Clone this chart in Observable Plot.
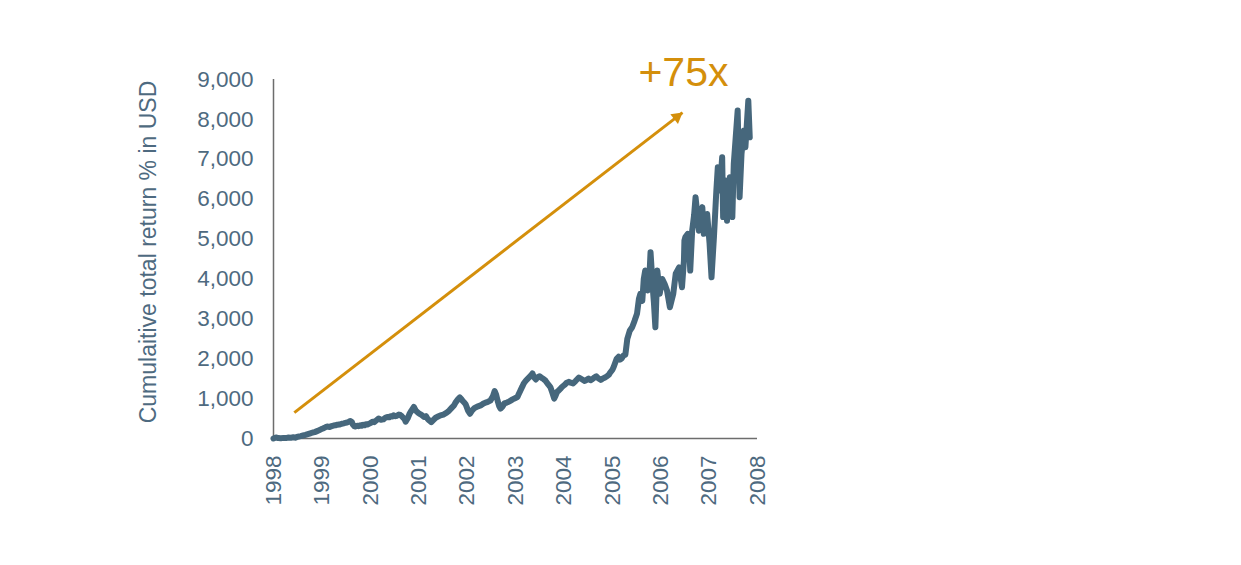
<!DOCTYPE html>
<html><head><meta charset="utf-8">
<script src="https://cdn.jsdelivr.net/npm/d3@7"></script>
<script src="https://cdn.jsdelivr.net/npm/@observablehq/plot@0.6"></script>
<style>body{margin:0;background:#fff;}</style>
</head><body><div id="chart"></div>
<script>
// Fractional year and cumulative total return (%)
const years = [1998.00,1998.05,1998.10,1998.15,1998.21,1998.26,1998.30,1998.36,1998.41,1998.46,1998.50,1998.56,1998.61,1998.66,1998.71,1998.76,1998.81,1998.85,1998.90,1998.93,1998.98,1999.02,1999.07,1999.11,1999.16,1999.20,1999.24,1999.28,1999.32,1999.36,1999.41,1999.45,1999.49,1999.52,1999.56,1999.59,1999.62,1999.64,1999.67,1999.69,1999.73,1999.76,1999.79,1999.82,1999.85,1999.88,1999.91,1999.94,1999.99,2000.05,2000.08,2000.11,2000.14,2000.17,2000.22,2000.27,2000.31,2000.35,2000.39,2000.42,2000.45,2000.48,2000.52,2000.55,2000.59,2000.62,2000.65,2000.68,2000.71,2000.73,2000.77,2000.81,2000.85,2000.90,2000.94,2000.99,2001.02,2001.05,2001.08,2001.11,2001.15,2001.18,2001.22,2001.26,2001.30,2001.35,2001.40,2001.45,2001.51,2001.57,2001.63,2001.69,2001.73,2001.76,2001.81,2001.85,2001.88,2001.91,2001.94,2001.97,2002.02,2002.06,2002.10,2002.15,2002.21,2002.28,2002.33,2002.38,2002.43,2002.48,2002.53,2002.57,2002.60,2002.63,2002.66,2002.69,2002.73,2002.77,2002.82,2002.86,2002.90,2002.94,2002.99,2003.04,2003.07,2003.10,2003.14,2003.17,2003.22,2003.27,2003.32,2003.35,2003.38,2003.42,2003.45,2003.50,2003.54,2003.58,2003.62,2003.65,2003.68,2003.72,2003.76,2003.80,2003.83,2003.86,2003.89,2003.93,2003.96,2004.01,2004.05,2004.10,2004.14,2004.19,2004.24,2004.31,2004.38,2004.43,2004.47,2004.51,2004.55,2004.58,2004.62,2004.67,2004.71,2004.76,2004.80,2004.85,2004.89,2004.93,2004.96,2005.00,2005.03,2005.06,2005.09,2005.13,2005.16,2005.19,2005.23,2005.27,2005.31,2005.36,2005.41,2005.46,2005.51,2005.55,2005.58,2005.62,2005.65,2005.68,2005.73,2005.76,2005.79,2005.84,2005.86,2005.89,2005.93,2005.98,2006.03,2006.08,2006.13,2006.19,2006.26,2006.31,2006.38,2006.44,2006.48,2006.49,2006.51,2006.56,2006.58,2006.61,2006.65,2006.69,2006.72,2006.75,2006.79,2006.82,2006.86,2006.89,2006.93,2006.96,2007.01,2007.05,2007.10,2007.15,2007.18,2007.22,2007.27,2007.29,2007.34,2007.37,2007.43,2007.48,2007.51,2007.55,2007.59,2007.63,2007.67,2007.72,2007.75,2007.81,2007.84];
const returns = [0,25,10,5,15,10,25,20,30,20,45,60,75,90,110,130,150,160,185,200,230,250,280,300,290,310,325,330,345,350,370,380,395,400,420,440,410,350,310,300,320,310,330,320,345,330,360,350,380,420,410,440,470,500,470,480,520,540,530,560,550,580,560,570,600,590,560,520,480,420,500,620,700,790,700,640,620,600,570,540,560,500,450,410,460,520,550,580,600,640,700,780,830,900,980,1030,990,940,900,860,700,620,700,760,800,830,870,900,920,950,1050,1190,1100,950,820,750,800,880,900,920,950,980,1010,1040,1120,1200,1300,1380,1460,1520,1580,1630,1540,1480,1530,1560,1520,1490,1450,1400,1350,1290,1150,1000,1080,1170,1200,1250,1290,1340,1390,1420,1400,1380,1440,1530,1480,1440,1470,1500,1460,1480,1520,1560,1510,1470,1500,1530,1560,1600,1660,1720,1800,1900,2000,2050,1980,2000,2080,2100,2500,2700,2790,2950,3125,3500,3630,3450,4000,4210,3710,3900,4670,3710,3400,2790,4210,3630,4000,3880,3710,3290,3630,4130,4290,3790,4460,4960,5050,5130,5100,4210,5210,5600,6050,5700,5210,5500,5800,5130,5400,5630,4880,4040,5050,6220,6800,6220,7050,5550,6470,5460,6550,5550,6890,7550,8220,6050,7140,7720,7300,8470,7550];

const yTicks = [0,1000,2000,3000,4000,5000,6000,7000,8000,9000];
const xTicks = [1998,1999,2000,2001,2002,2003,2004,2005,2006,2007,2008];

// Annotation: arrow start/end (year, return) and callout label
const arrowStart = [1998.43, 650];
const arrowEnd = [2006.45, 8170];
const calloutText = ["+75x"];
const calloutPos = [2006.47, 9175];
const yLabel = "Cumulaitive total return % in USD";

const series = years.map((y, i) => ({year: y, value: returns[i]}));
const textColor = "#4e6a80";
const lineColor = "#46677c";
const orange = "#d48f0b";

const chart = Plot.plot({
  width: 1241,
  height: 565,
  marginLeft: 273,
  marginRight: 484,
  marginTop: 79,
  marginBottom: 127,
  style: {fontFamily: "'Liberation Sans', Arial, sans-serif", fontSize: "22.5px", color: textColor, background: "#fff"},
  x: {domain: [1998, 2008]},
  y: {domain: [0, 9000]},
  marks: [
    Plot.axisY({ticks: yTicks, tickSize: 0, tickPadding: 20, tickFormat: d3.format(","), label: null, fontSize: 22.5}),
    Plot.axisX({ticks: xTicks, tickSize: 0, tickPadding: 17, tickRotate: -90, tickFormat: d => String(d), label: null, fontSize: 22.5}),
    Plot.ruleX([1998], {stroke: "#6d6d6d", strokeWidth: 1.5}),
    Plot.ruleY([0], {stroke: "#6d6d6d", strokeWidth: 1.5}),
    Plot.text([yLabel], {frameAnchor: "left", textAnchor: "middle", dx: -125, dy: -7, rotate: -90, fontSize: 23, fill: textColor}),
    Plot.line(series, {x: "year", y: "value", stroke: lineColor, strokeWidth: 6, strokeLinejoin: "round", strokeLinecap: "round"}),
    Plot.link([0], {x1: () => arrowStart[0], y1: () => arrowStart[1], x2: () => arrowEnd[0], y2: () => arrowEnd[1], stroke: orange, strokeWidth: 3}),
    Plot.dot([0], {x: () => arrowEnd[0], y: () => arrowEnd[1], symbol: "triangle", r: 4.6, fill: orange, stroke: "none", rotate: 52, dx: -5.5, dy: 4.2}),
    Plot.text(calloutText, {x: () => calloutPos[0], y: () => calloutPos[1], fontSize: 41, fill: orange})
  ]
});
document.getElementById("chart").append(chart);
</script>
</body></html>
